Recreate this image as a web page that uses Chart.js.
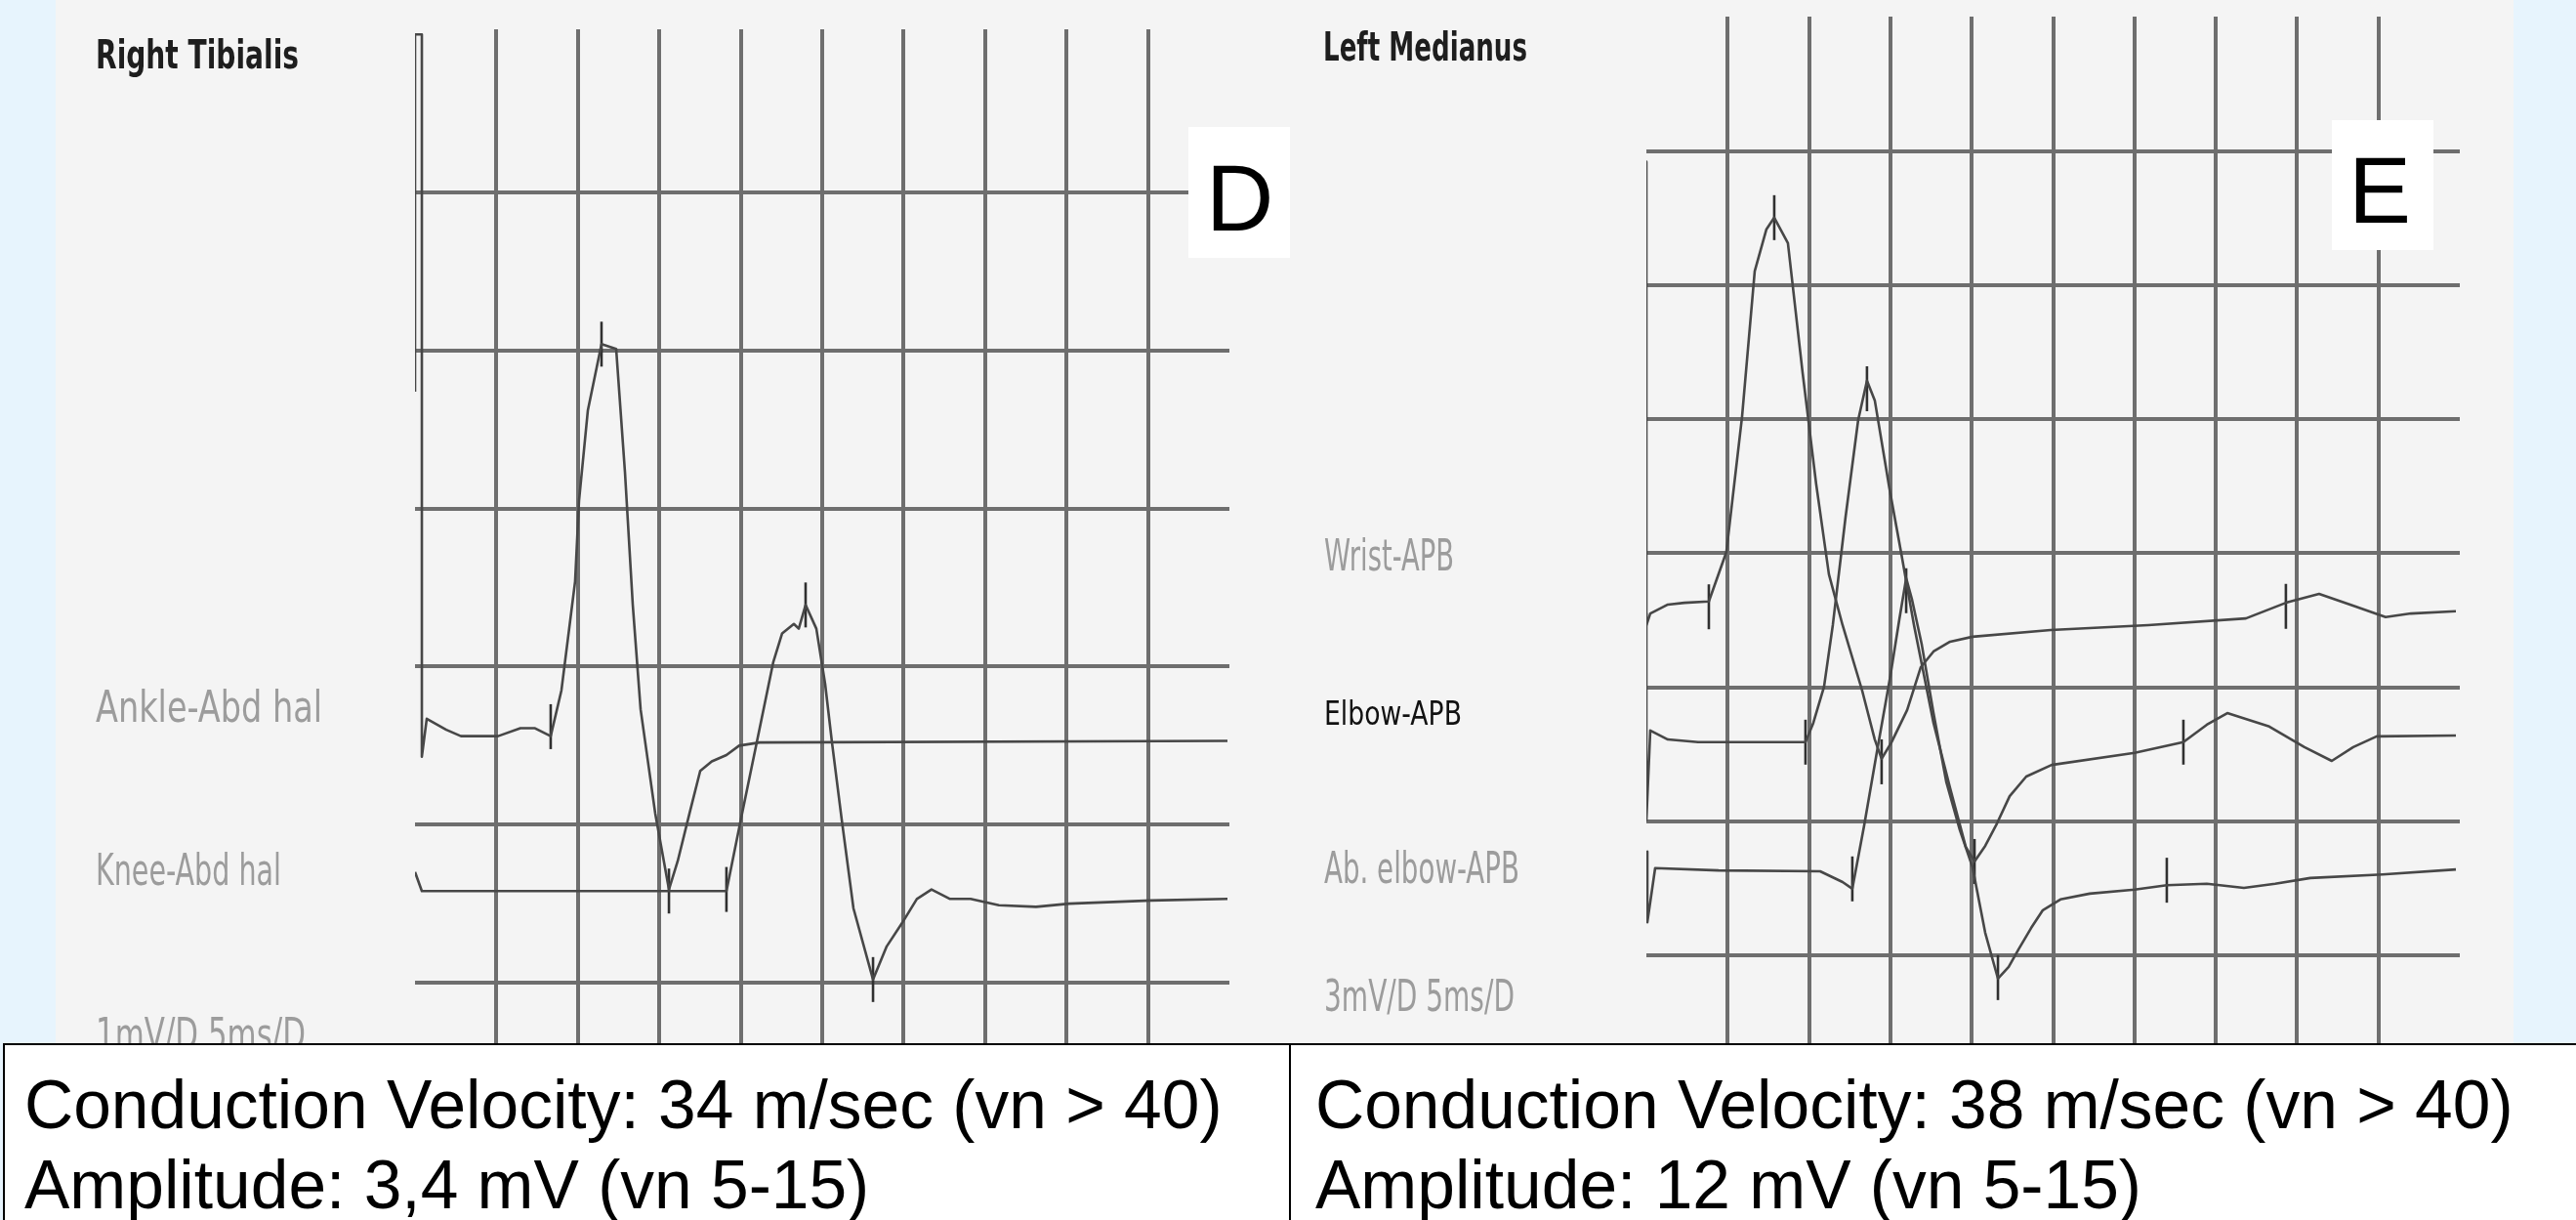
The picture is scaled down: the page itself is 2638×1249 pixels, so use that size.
<!DOCTYPE html>
<html lang="en">
<head>
<meta charset="utf-8">
<title>Nerve conduction — Right Tibialis / Left Medianus</title>
<script src="https://cdn.jsdelivr.net/npm/chart.js@4.4.1/dist/chart.umd.min.js"></script>
<style>
    html, body { margin: 0; padding: 0; }
    body {
        width: 2638px; height: 1249px; position: relative; overflow: hidden;
        background: #e7f4fd;
        font-family: "Liberation Sans", Arial, sans-serif;
    }
    #sheet { position: absolute; left: 57px; top: 0; width: 2517px; height: 1075px; background: #f4f4f4; }
    #cv-d  { position: absolute; left: 0; top: 0; }
    #cv-e  { position: absolute; left: 1321px; top: 0; }
    #info {
        position: absolute; left: 3px; top: 1068px; width: 2635px; height: 181px;
        box-sizing: border-box; border-top: 2px solid #000; border-left: 2px solid #000;
        background: #fff; display: flex; z-index: 2;
    }
    .cell { box-sizing: border-box; padding: 20px 0 0 20px; font-size: 69.5px; line-height: 82px; color: #000; white-space: nowrap; }
    #cell-d { width: 1317px; border-right: 2px solid #000; }
    #cell-e { flex: 1; padding-left: 25px; }
</style>
</head>
<body>
<div id="sheet"></div>
<canvas id="cv-d" width="1321" height="1075"></canvas>
<canvas id="cv-e" width="1317" height="1075"></canvas>
<div id="info">
    <div class="cell" id="cell-d">Conduction Velocity: 34 m/sec (vn &gt; 40)<br>Amplitude: 3,4 mV (vn 5-15)</div>
    <div class="cell" id="cell-e">Conduction Velocity: 38 m/sec (vn &gt; 40)<br>Amplitude: 12 mV (vn 5-15)</div>
</div>
<script>
/* global Chart */

// =========================================================
// Data — time in ms (5 ms/D), amplitude in mV
// =========================================================
var xGrid = [5, 10, 15, 20, 25, 30, 35, 40, 45];

// D: Right Tibialis, 1 mV/D
var dGrid = [0, 1, 2, 3, 4, 5];

var ankleT = [0, 0, 0.42, 0.42, 0.72, 1.92, 2.82, 5.10, 6.47, 7.37, 8.33, 8.99, 9.83, 10.07, 10.61, 11.45,
              12.35, 12.89, 13.37, 13.85, 14.75, 15.59, 16.13, 16.85, 17.51, 18.22, 19.12, 19.90, 21.16, 49.88];
var ankleV = [3.74, 6.00, 6.00, 1.43, 1.67, 1.60, 1.56, 1.56, 1.61, 1.61, 1.56, 1.85, 2.54, 3.05, 3.62, 4.04,
              4.01, 3.23, 2.39, 1.73, 1.07, 0.59, 0.77, 1.07, 1.34, 1.40, 1.44, 1.50, 1.52, 1.53];
var ankleMarkT = [8.33, 11.45, 15.59];
var ankleMarkV = [1.62, 4.04, 0.58];

var kneeT = [0, 0.42, 15.23, 19.12, 20.02, 20.92, 22.00, 22.54, 23.26, 23.56, 23.98, 24.64, 25.18, 25.60,
             26.20, 26.92, 28.12, 28.96, 29.92, 30.81, 31.71, 32.85, 34.11, 35.85, 38.13, 40.17, 45.20, 49.88];
var kneeV = [0.70, 0.58, 0.58, 0.58, 1.04, 1.49, 2.03, 2.21, 2.27, 2.24, 2.39, 2.24, 1.89, 1.52,
             1.03, 0.47, 0.02, 0.23, 0.38, 0.53, 0.59, 0.53, 0.53, 0.49, 0.48, 0.50, 0.52, 0.53];
var kneeMarkT = [19.12, 23.98, 28.12];
var kneeMarkV = [0.59, 2.39, 0.02];

// E: Left Medianus, 3 mV/D
var eGrid = [0, 3, 6, 9, 12, 15, 18];

var wristT = [0, 0, 0.24, 1.32, 2.34, 3.84, 4.92, 5.88, 6.66, 7.38, 7.86, 8.70, 9.60, 10.44, 11.22, 12.06, 13.26,
              14.04, 14.46, 15.07, 16.03, 16.87, 17.65, 18.67, 20.05, 24.85, 30.85, 36.85, 39.31, 41.35, 43.39,
              45.44, 47.00, 49.76];
var wristV = [17.76, 7.39, 7.65, 7.85, 7.89, 7.92, 9.03, 12.05, 15.31, 16.25, 16.51, 15.94, 13.05, 10.54, 8.53, 7.39, 5.93,
              4.83, 4.40, 4.77, 5.49, 6.45, 6.80, 7.02, 7.13, 7.28, 7.39, 7.54, 7.89, 8.09, 7.83,
              7.57, 7.65, 7.70];
var wristMarkT = [3.84, 7.86, 14.46, 39.31];
var wristMarkV = [7.80, 16.51, 4.33, 7.81];

var elbowT = [0, 0, 0.24, 1.32, 3.18, 9.78, 10.26, 10.92, 11.46, 12.24, 13.02, 13.56, 14.04, 14.94, 15.67, 16.45,
              17.65, 18.67, 19.63, 20.17, 20.83, 21.55, 22.33, 23.35, 24.91, 30.01, 33.01, 34.45, 35.71, 38.29,
              40.45, 42.13, 43.45, 44.89, 49.76];
var elbowV = [7.65, 3.02, 5.03, 4.83, 4.77, 4.77, 5.20, 6.01, 7.39, 9.80, 11.98, 12.86, 12.42, 10.45, 8.99, 7.39,
              5.20, 3.74, 2.43, 2.10, 2.45, 2.95, 3.56, 4.00, 4.26, 4.53, 4.77, 5.16, 5.42, 5.12,
              4.66, 4.35, 4.66, 4.90, 4.92];
var elbowMarkT = [9.78, 13.56, 20.17, 33.01];
var elbowMarkV = [4.77, 12.68, 2.10, 4.77];

var abElbowT = [0.06, 0.06, 0.54, 4.44, 10.68, 12.06, 12.66, 13.38, 14.16, 15.01, 15.55, 15.97, 16.33, 16.93,
                17.65, 18.43, 19.27, 20.05, 20.83, 21.61, 22.27, 22.87, 23.65, 24.37, 25.45, 27.25, 30.01,
                31.99, 34.45, 36.73, 38.65, 40.81, 45.25, 49.76];
var abElbowV = [2.32, 0.74, 1.95, 1.90, 1.88, 1.64, 1.49, 2.89, 4.53, 6.28, 7.52, 8.44, 7.96, 6.95,
                5.42, 3.89, 2.80, 1.97, 0.50, -0.52, -0.26, 0.13, 0.61, 1.01, 1.25, 1.38, 1.47,
                1.57, 1.60, 1.51, 1.60, 1.73, 1.81, 1.92];
var abElbowMarkT = [12.66, 15.97, 21.61, 31.99];
var abElbowMarkV = [1.71, 8.16, -0.50, 1.68];

(function () {
    'use strict';

    var GRID  = '#6e6e6e';
    var TRACE = '#474747';
    var MARK  = '#303030';
    var LABEL_FONT = '"Liberation Sans Narrow", "DejaVu Sans Condensed", "DejaVu Sans", sans-serif';

    function pts(t, v) {
        return t.map(function (x, i) { return { x: x, y: v[i] }; });
    }

    function trace(t, v) {
        return {
            type: 'line', data: pts(t, v),
            borderColor: TRACE, borderWidth: 2.6, borderJoinStyle: 'round',
            pointRadius: 0, tension: 0, fill: false
        };
    }

    function marks(t, v) {
        return {
            type: 'scatter', data: pts(t, v), showLine: false,
            pointStyle: 'line', rotation: 90, radius: 23,
            borderColor: MARK, borderWidth: 2.6
        };
    }

    // =========================================================
    // Labels + panel letter, drawn over the grid
    // =========================================================
    var panelText = {
        id: 'panelText',
        afterDraw: function (chart) {
            var o = chart.options.plugins.panelText;
            var ctx = chart.ctx;
            o.labels.forEach(function (l) {
                ctx.save();
                ctx.font = (l.bold ? 'bold ' : '') + l.size + 'px ' + LABEL_FONT;
                ctx.fillStyle = l.color;
                ctx.textBaseline = 'alphabetic';
                var w = ctx.measureText(l.text).width;
                ctx.translate(l.x, l.y);
                ctx.scale(l.w / w, 1);
                ctx.fillText(l.text, 0, 0);
                ctx.restore();
            });
            var t = o.tag;
            ctx.save();
            ctx.fillStyle = '#ffffff';
            ctx.fillRect(t.x, t.y, t.w, t.h);
            ctx.fillStyle = '#000000';
            ctx.font = '96px "Liberation Sans", Arial, sans-serif';
            ctx.textBaseline = 'alphabetic';
            ctx.fillText(t.text, t.tx, t.ty);
            ctx.restore();
        }
    };

    function panel(id, cfg) {
        return new Chart(document.getElementById(id), {
            type: 'line',
            data: { datasets: cfg.datasets },
            options: {
                responsive: false, animation: false, devicePixelRatio: 1, events: [],
                // markers would otherwise push the plot area up by their radius
                layout: { autoPadding: false, padding: cfg.pad },
                plugins: {
                    legend: { display: false },
                    tooltip: { enabled: false },
                    panelText: { labels: cfg.labels, tag: cfg.tag }
                },
                scales: {
                    x: {
                        type: 'linear', min: 0, max: 50,
                        border: { display: false },
                        ticks: { display: false },
                        grid: { drawTicks: false, color: GRID, lineWidth: 4 },
                        afterBuildTicks: function (s) { s.ticks = xGrid.map(function (v) { return { value: v }; }); },
                        afterFit: function (s) { s.height = 0; }
                    },
                    y: {
                        type: 'linear', min: cfg.yMin, max: cfg.yMax,
                        border: { display: false },
                        ticks: { display: false },
                        grid: { drawTicks: false, color: GRID, lineWidth: 4 },
                        afterBuildTicks: function (s) { s.ticks = cfg.yGrid.map(function (v) { return { value: v }; }); },
                        afterFit: function (s) { s.width = 0; }
                    }
                }
            },
            plugins: [panelText]
        });
    }

    // =========================================================
    // Panel D — Right Tibialis
    // =========================================================
    panel('cv-d', {
        pad:  { left: 425, right: 62, top: 30, bottom: 0 },
        yMin: -0.426, yMax: 6.032, yGrid: dGrid,
        datasets: [
            trace(ankleT, ankleV), trace(kneeT, kneeV),
            marks(ankleMarkT, ankleMarkV), marks(kneeMarkT, kneeMarkV)
        ],
        labels: [
            { text: 'Right Tibialis', x: 98, y: 70,   w: 208, size: 40, bold: true, color: '#1e1e1e' },
            { text: 'Ankle-Abd hal',  x: 98, y: 739,  w: 232, size: 44, color: '#9c9c9c' },
            { text: 'Knee-Abd hal',   x: 98, y: 906,  w: 190, size: 44, color: '#9c9c9c' },
            { text: '1mV/D 5ms/D',    x: 98, y: 1074, w: 215, size: 44, color: '#9c9c9c' }
        ],
        tag: { text: 'D', x: 1217, y: 130, w: 104, h: 134, tx: 1235, ty: 236 }
    });

    // =========================================================
    // Panel E — Left Medianus
    // =========================================================
    panel('cv-e', {
        pad:  { left: 365, right: 119, top: 17, bottom: 0 },
        yMin: -2.121, yMax: 21.01, yGrid: eGrid,
        datasets: [
            trace(wristT, wristV), trace(elbowT, elbowV), trace(abElbowT, abElbowV),
            marks(wristMarkT, wristMarkV), marks(elbowMarkT, elbowMarkV), marks(abElbowMarkT, abElbowMarkV)
        ],
        labels: [
            { text: 'Left Medianus', x: 34, y: 62,   w: 209, size: 40, bold: true, color: '#1e1e1e' },
            { text: 'Wrist-APB',     x: 35, y: 584,  w: 133, size: 44, color: '#9c9c9c' },
            { text: 'Elbow-APB',     x: 35, y: 742,  w: 141, size: 34, color: '#111111' },
            { text: 'Ab. elbow-APB', x: 35, y: 904,  w: 200, size: 44, color: '#9c9c9c' },
            { text: '3mV/D 5ms/D',   x: 35, y: 1035, w: 195, size: 44, color: '#9c9c9c' }
        ],
        tag: { text: 'E', x: 1067, y: 123, w: 104, h: 133, tx: 1084, ty: 228 }
    });
}());
</script>
</body>
</html>
